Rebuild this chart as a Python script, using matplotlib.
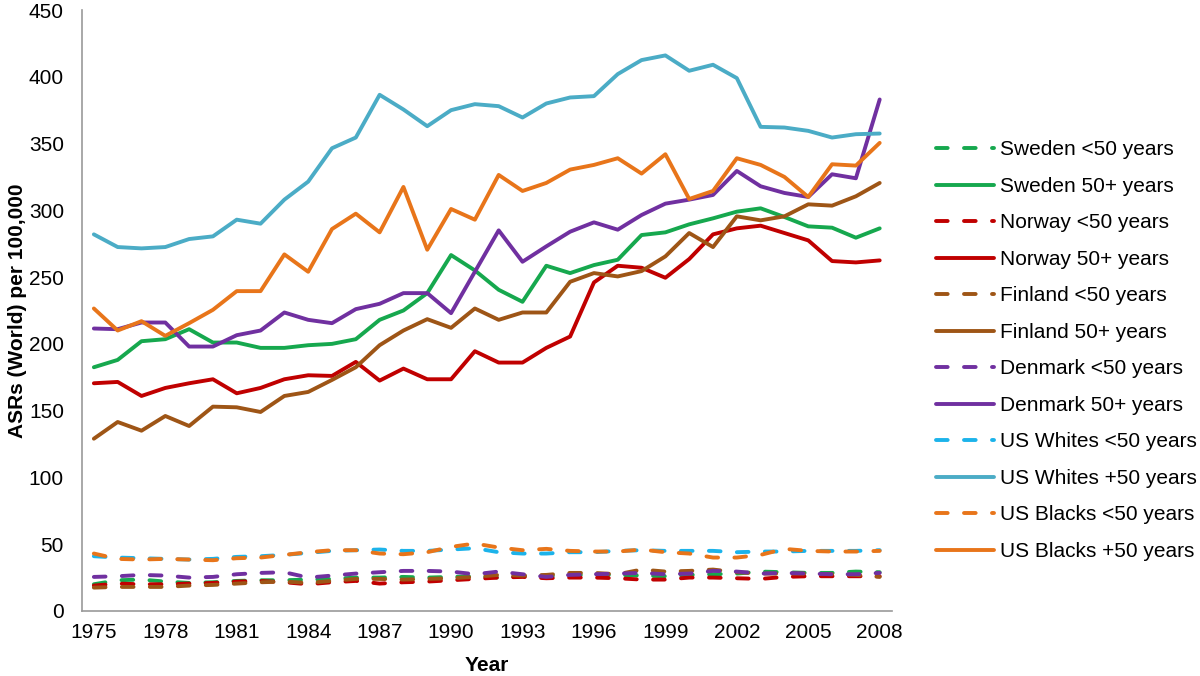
import matplotlib
matplotlib.use("Agg")
import matplotlib.pyplot as plt

plt.rcParams["font.family"] = ["Liberation Sans", "DejaVu Sans"]

YEARS = list(range(1975, 2009))

# ─── Data (ASR per 100,000) ──────────────────────────────────────────────────
sweden_u50 = [20, 23, 23.5, 22, 21, 21.5, 22.5, 23, 23, 23.5, 24, 25, 25, 25.5, 25, 25.5, 26,
              25, 26, 26, 27, 27, 27, 26.5, 26, 27, 27.5, 28, 29.5, 29, 28.5, 28.5, 29.5, 29]
sweden_50 = [182.5, 188, 202, 203.5, 211, 201, 201, 197, 197, 199, 200, 203.5, 218, 225, 238,
             266.5, 255, 240.5, 231.5, 258.5, 253, 259, 263, 281.5, 283.5, 289.5, 294, 299,
             301.5, 295, 288, 287, 279.5, 286.5]
norway_u50 = [19, 20.5, 20, 20, 20.5, 21, 22, 22.5, 21.5, 20, 21.5, 22.5, 20.5, 21.5, 22, 23, 24,
              25, 25.5, 24.5, 25, 25, 24.5, 23.5, 23.5, 25, 25, 24.5, 24, 25.5, 26, 26, 26, 26]
norway_50 = [170.5, 171.5, 161, 167, 170.5, 173.5, 163, 167, 173.5, 176.5, 176, 186.5, 172.5,
             181.5, 173.5, 173.5, 194.5, 186, 186, 197, 205.5, 246, 258.5, 257, 249.5, 263.5,
             282, 286.5, 288.5, 283, 277.5, 262, 261, 262.5]
finland_u50 = [17.5, 18, 18, 18, 19, 19.5, 20.5, 21.5, 22, 21, 22.5, 24, 24, 23.5, 24, 24.5, 25.5,
               27, 26.5, 27, 28.5, 28.5, 27.5, 31, 29.5, 30, 31, 29, 28, 28, 28, 27.5, 27, 25.5]
finland_50 = [129, 141.5, 135, 146, 138.5, 153, 152.5, 149, 161, 164, 173, 182.5, 199, 210,
              218.5, 212, 226.5, 218, 223.5, 223.5, 246.5, 253, 250.5, 254.5, 265.5, 283,
              272.5, 295.5, 292.5, 295.5, 304.5, 303.5, 310.5, 320.5]
denmark_u50 = [25.5, 26, 27, 26.5, 25, 25.5, 27.5, 28.5, 29, 25, 26.5, 28, 29, 30, 30, 29.5, 27.5,
               29.5, 27.5, 25.5, 27, 27.5, 28, 28.5, 27.5, 28, 30, 29.5, 28, 28.5, 28, 27.5, 27.5, 28.5]
denmark_50 = [211.5, 211, 216, 216, 198, 198, 206.5, 210, 223.5, 218, 215.5, 226, 230, 238,
              238, 223, 254, 285, 261.5, 273, 284, 291, 285.5, 296.5, 305, 308, 311.5, 329.5,
              318, 313, 310, 327, 324, 383]
uswhite_u50 = [41, 40, 39.5, 39, 38.5, 39, 40.5, 41, 42, 43.5, 45, 45.5, 46, 45, 45, 46, 47,
               44, 43, 43, 44, 44, 45, 45.5, 45, 45, 45, 44, 44.5, 44.5, 45, 45, 45, 45.5]
uswhite_50 = [282, 272.5, 271.5, 272.5, 278.5, 280.5, 293, 290, 308, 321.5, 346.5, 354.5, 386.5,
              375.5, 363, 375, 379.5, 378, 369.5, 380, 384.5, 385.5, 402, 412.5, 416, 404.5,
              409, 399, 362.5, 362, 359.5, 354.5, 357, 357.5]
usblack_u50 = [43, 39, 38.5, 39, 38.5, 38, 39.5, 40, 42, 44, 45.5, 45.5, 43, 42.5, 44, 48, 50.5,
               47.5, 45.5, 46.5, 45, 44.5, 44.5, 46, 44, 43, 40, 40, 42, 46.5, 45, 44.5, 44.5, 45]
usblack_50 = [226.5, 210, 217, 206, 215.5, 225.5, 239.5, 239.5, 267, 254, 286, 297.5, 283.5,
              317.5, 270.5, 301, 293, 326.5, 314.5, 320.5, 330.5, 334, 339, 327.5, 342, 308.5,
              314.5, 339, 334, 325, 310, 334.5, 333.5, 350.5]

SERIES = [
    ("Sweden <50 years",     sweden_u50,  "#16a84e", True),
    ("Sweden 50+ years",     sweden_50,   "#16a84e", False),
    ("Norway <50 years",     norway_u50,  "#c00000", True),
    ("Norway 50+ years",     norway_50,   "#c00000", False),
    ("Finland <50 years",    finland_u50, "#9e5516", True),
    ("Finland 50+ years",    finland_50,  "#9e5516", False),
    ("Denmark <50 years",    denmark_u50, "#7030a0", True),
    ("Denmark 50+ years",    denmark_50,  "#7030a0", False),
    ("US Whites <50 years",  uswhite_u50, "#1cb3ea", True),
    ("US Whites +50 years",  uswhite_50,  "#4bacc6", False),
    ("US Blacks <50 years",  usblack_u50, "#e8751a", True),
    ("US Blacks +50 years",  usblack_50,  "#e8751a", False),
]

# ─── Figure ──────────────────────────────────────────────────────────────────
fig = plt.figure(figsize=(12, 6.76), dpi=100)
ax = fig.add_axes([0.0683, 0.0962, 0.6747, 0.889])

for label, vals, color, dashed in SERIES:
    if dashed:
        ax.plot(YEARS, vals, color=color, linewidth=2.8, linestyle=(0, (3.0, 4.2)),
                dash_capstyle="round", label=label)
    else:
        ax.plot(YEARS, vals, color=color, linewidth=2.8, solid_capstyle="round",
                solid_joinstyle="round", label=label)

ax.set_xlim(1974.5, 2008.5)
ax.set_ylim(0, 450)
ax.set_xticks(list(range(1975, 2009, 3)))
ax.set_yticks(list(range(0, 451, 50)))
ax.tick_params(length=0, labelsize=15, pad=9)
ax.tick_params(axis="y", pad=13)

for side in ("top", "right"):
    ax.spines[side].set_visible(False)
for side in ("left", "bottom"):
    ax.spines[side].set_color("#999999")
    ax.spines[side].set_linewidth(1.2)

ax.set_xlabel("Year", fontsize=15, fontweight="bold", labelpad=10)
ax.set_ylabel("ASRs (World) per 100,000", fontsize=15, fontweight="bold", labelpad=1)

leg = ax.legend(loc="upper left", bbox_to_anchor=(1.045, 0.797), frameon=False,
                fontsize=15, handlelength=2.75, handletextpad=0.3, labelspacing=0.84,
                borderaxespad=0)

fig.savefig("out.png", dpi=100)
